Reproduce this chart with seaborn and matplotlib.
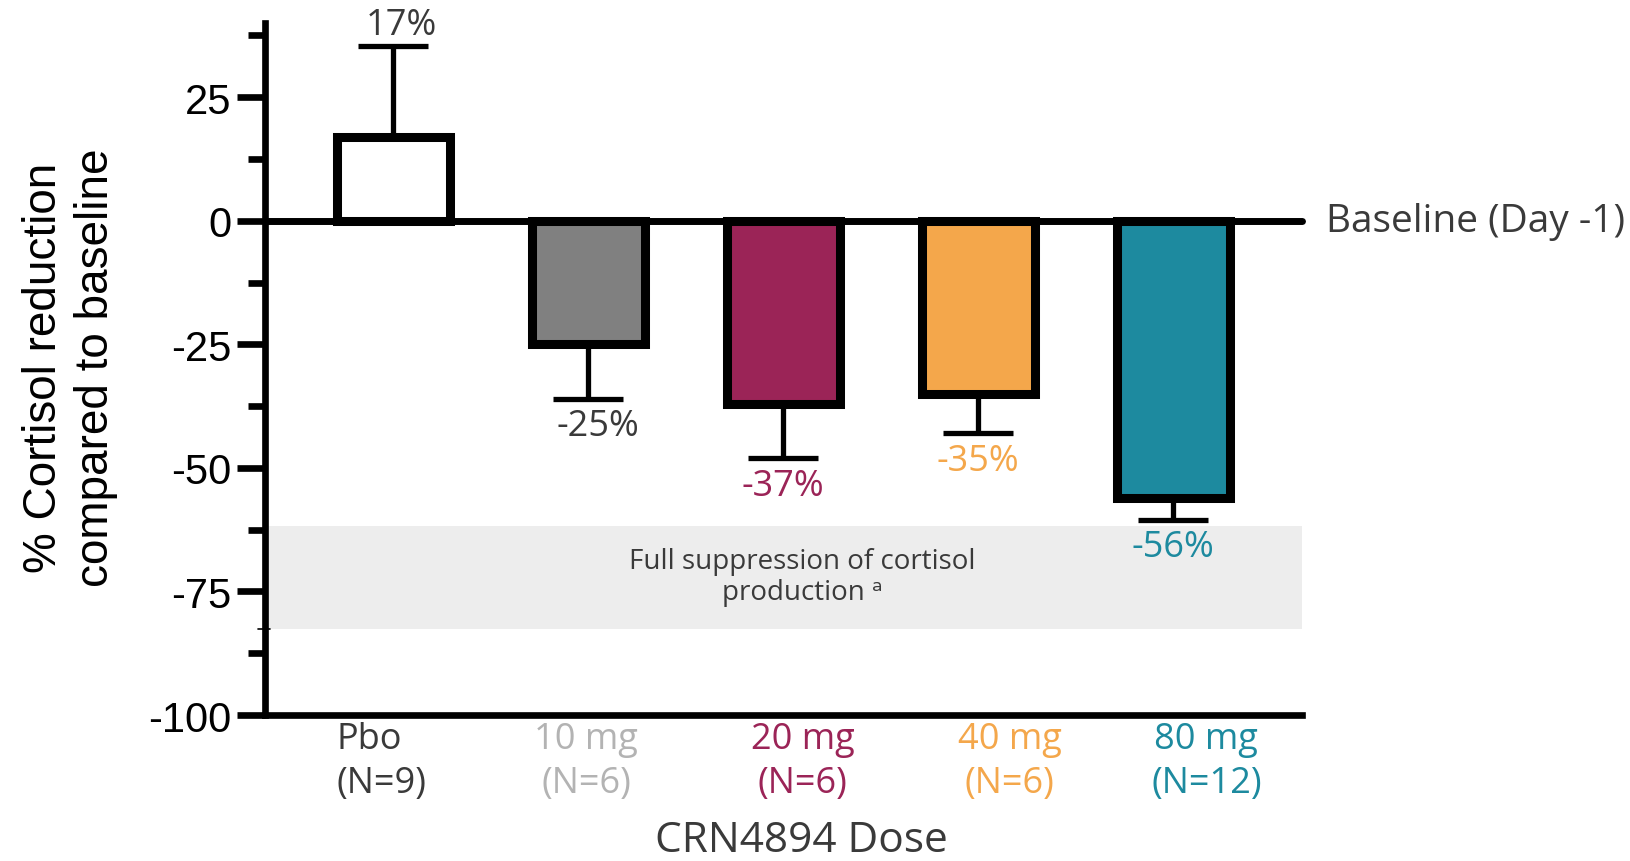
import numpy as np
import pandas as pd
import matplotlib
matplotlib.use("Agg")
import matplotlib.pyplot as plt
import matplotlib.transforms as mtransforms
from matplotlib.ticker import MultipleLocator
import seaborn as sns

# ---- data ----
doses = ["Pbo", "10 mg", "20 mg", "40 mg", "80 mg"]
n_labels = ["(N=9)", "(N=6)", "(N=6)", "(N=6)", "(N=12)"]
values = [17, -25, -37, -35, -56]
errors = [18.4, 11, 11, 8, 4.5]
value_labels = ["17%", "-25%", "-37%", "-35%", "-56%"]
bar_colors = ["#FFFFFF", "#808080", "#9B2457", "#F4A74B", "#1D8A9F"]
label_colors = ["#3A3A3A", "#B3B3B3", "#9B2457", "#F4A74B", "#1D8A9F"]
value_label_colors = ["#3A3A3A", "#3A3A3A", "#9B2457", "#F4A74B", "#1D8A9F"]
band_low, band_high = -82.7, -61.8
yticks_major = [25, 0, -25, -50, -75, -100]

# layout-only offsets (label placement relative to category centres)
tick_label_shift = [-0.06, -0.01, 0.10, 0.16, 0.17]
value_label_shift = [0.04, 0.05, 0.0, 0.0, 0.0]

sns.set_theme(style="white")
plt.rcParams["font.family"] = ["Open Sans", "DejaVu Sans"]
plt.rcParams["axes.unicode_minus"] = False

fig = plt.figure(figsize=(16.31, 8.62), dpi=100)
ax = fig.add_axes([265 / 1631, 1 - 716 / 862, (1302 - 265) / 1631, (716 - 24) / 862])

df = pd.DataFrame({"dose": doses, "value": values})

# shaded band
ax.axhspan(band_low, band_high, color="#EDEDED", zorder=0, lw=0)
ax.text(2.1, -72.0, "Full suppression of cortisol\nproduction ᵃ", ha="center", va="center",
        fontsize=20, color="#3A3A3A", linespacing=1.17, zorder=1)

# error bars (one-sided)
for i, (v, e) in enumerate(zip(values, errors)):
    yerr = [[0], [e]] if v >= 0 else [[e], [0]]
    ax.errorbar(i, v, yerr=yerr, fmt="none", ecolor="black", elinewidth=3.8,
                capsize=25, capthick=3.8, zorder=2)

sns.barplot(data=df, x="dose", y="value", hue="dose", palette=bar_colors,
            edgecolor="black", linewidth=6.5, width=0.58, errorbar=None,
            legend=False, ax=ax, zorder=3, saturation=1)

# zero line
ax.axhline(0, color="black", lw=5, zorder=4, clip_on=False)

# value labels
for i, (v, e, t, c, dx) in enumerate(zip(values, errors, value_labels,
                                          value_label_colors, value_label_shift)):
    if v >= 0:
        ax.text(i + dx, v + e + 4.2, t, ha="center", va="center", fontsize=26, color=c,
                clip_on=False)
    else:
        ax.text(i + dx, v - e - 5.6, t, ha="center", va="center", fontsize=26, color=c)

ax.set_xlim(-0.657, 4.66)
ax.set_ylim(-100, 40)

# spines
sns.despine(ax=ax, top=True, right=True)
for s in ["left", "bottom"]:
    ax.spines[s].set_linewidth(4.8)
    ax.spines[s].set_color("black")

# y ticks
ax.set_yticks(yticks_major)
ax.set_yticklabels([str(t) for t in yticks_major], fontsize=30, color="black",
                   family=["Liberation Sans", "DejaVu Sans"])
ax.yaxis.set_minor_locator(MultipleLocator(12.5))
ax.tick_params(axis="y", which="major", length=20, width=4.8, color="black", pad=4, left=True)
ax.tick_params(axis="y", which="minor", length=12, width=4.8, color="black", left=True)

# x ticks (labels only)
ax.set_xticks([i + s for i, s in enumerate(tick_label_shift)])
ax.set_xticklabels([f"{d}\n{n}" for d, n in zip(doses, n_labels)], fontsize=26,
                   linespacing=1.3)
for k, (lbl, c) in enumerate(zip(ax.get_xticklabels(), label_colors)):
    lbl.set_color(c)
    if k == 0:
        lbl.set_multialignment("left")
ax.tick_params(axis="x", which="both", length=0, pad=4, bottom=False)

ax.set_xlabel("CRN4894 Dose", fontsize=30.5, color="#3A3A3A", va="center")
ax.xaxis.set_label_coords(0.517, -0.181)
ax.set_ylabel("% Cortisol reduction\ncompared to baseline", fontsize=33, color="black",
              family=["Liberation Sans", "DejaVu Sans"], linespacing=1.24, va="center")
ax.yaxis.set_label_coords(-0.188, 0.503)

# small mark at the band bottom
trans = mtransforms.blended_transform_factory(ax.transAxes, ax.transData)
ax.plot([-0.007, 0.005], [band_low, band_low], color="black", lw=1.2, transform=trans,
        clip_on=False, zorder=5)

ax.text(1.023, 0, "Baseline (Day -1)", transform=trans, ha="left", va="center",
        fontsize=28, color="#3A3A3A")

fig.savefig("out.png", dpi=100)
